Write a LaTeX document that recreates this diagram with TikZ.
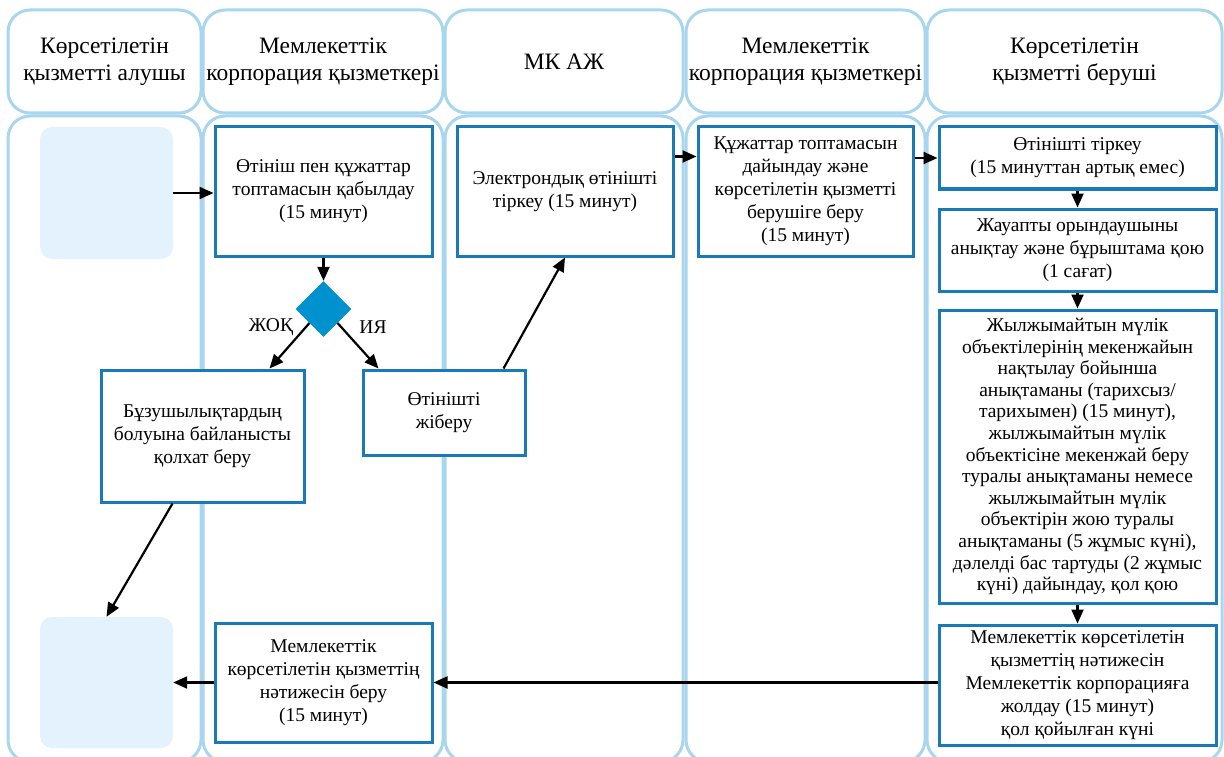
\documentclass[tikz,border=0pt]{standalone}
\usepackage{fontspec}
\setmainfont{Liberation Serif}
\usepackage{tikz}
\usetikzlibrary{calc,positioning,arrows.meta,shapes.geometric}
\definecolor{lanecol}{RGB}{168,214,238}
\definecolor{boxcol}{RGB}{25,122,182}
\definecolor{diacol}{RGB}{0,146,206}
\definecolor{startcol}{RGB}{227,242,252}
\tikzset{
    >={Triangle[length=14pt, width=12pt]},
    lanehead/.style={
        draw=lanecol,
        line width=3pt,
        rounded corners=22pt
    },
    headtext/.style={
        align=center,
        font={\fontsize{23.5pt}{27pt}\selectfont}
    },
    procbox/.style={
        rectangle,
        draw=boxcol, line width=3pt,
        fill=white,
        inner sep=0pt,
        align=center
    },
    endbox/.style={
        rectangle,
        rounded corners=12pt,
        fill=startcol,
        inner sep=0pt
    },
    decision/.style={
        diamond,
        fill=diacol,
        inner sep=0pt,
        minimum width=56pt,
        minimum height=56pt
    },
    flowline/.style={draw, line width=2.2pt, ->},
    font={\fontsize{19.5pt}{23pt}\selectfont},
}

\begin{document}
\begin{tikzpicture}[x=1pt, y=-1pt]
\useasboundingbox (0,0) rectangle (1224,757);
% swim lanes
\foreach \l/\r in {8/201, 203/443, 445/683, 686/925, 927/1222}{
    \draw[lanehead] (\l,10) rectangle (\r,113);
    \draw[lanehead] (\l,116) rectangle (\r,762);
}
\node[headtext] (hdA) at (104.5,62) {Көрсетілетін\\қызметті алушы};
\node[headtext] (hdB) at (323,62) {Мемлекеттік\\корпорация қызметкері};
\node[headtext] (hdC) at (564,62) {МК АЖ};
\node[headtext] (hdD) at (805.5,62) {Мемлекеттік\\корпорация қызметкері};
\node[headtext] (hdE) at (1074.5,62) {Көрсетілетін\\қызметті беруші};

\node(start) at (106.5,193)[endbox, minimum width=133pt, minimum height=132pt]{};
\node(fin) at (106.5,682.5)[endbox, minimum width=133pt, minimum height=131pt]{};

\node(acc) at (323.5,191.5)[procbox, minimum width=217pt, minimum height=129pt]
    {Өтініш пен құжаттар\\топтамасын қабылдау\\(15 минут)};
\node(reg) at (565,191.5)[procbox, minimum width=216pt, minimum height=129pt]
    {Электрондық өтінішті\\тіркеу (15 минут)};
\node(prep) at (805.5,191.5)[procbox, minimum width=215pt, minimum height=129pt]
    {Құжаттар топтамасын\\дайындау және\\көрсетілетін қызметті\\берушіге беру\\(15 минут)};
\node(rec) at (1077.5,158)[procbox, minimum width=277pt, minimum height=62pt]
    {Өтінішті тіркеу\\(15 минуттан артық емес)};
\node(assign) at (1077.5,250)[procbox, minimum width=277pt, minimum height=82pt]
    {Жауапты орындаушыны\\анықтау және бұрыштама қою\\(1 сағат)};
\node(cert) at (1077.5,456.5)[procbox, minimum width=277pt, minimum height=293pt,
    font={\fontsize{19.5pt}{21.6pt}\selectfont}]
    {Жылжымайтын мүлік\\объектілерінің мекенжайын\\нақтылау бойынша\\анықтаманы (тарихсыз/\\тарихымен) (15 минут),\\жылжымайтын мүлік\\объектісіне мекенжай беру\\туралы анықтаманы немесе\\жылжымайтын мүлік\\объектірін жою туралы\\анықтаманы (5 жұмыс күні),\\дәлелді бас тартуды (2 жұмыс\\күні) дайындау, қол қою};
\node(send) at (1077.5,685)[procbox, minimum width=277pt, minimum height=120pt]
    {Мемлекеттік көрсетілетін\\қызметтің нәтижесін\\Мемлекеттік корпорацияға\\жолдау (15 минут)\\қол қойылған күні};
\node(dia) at (323.5,309)[decision]{};
\node(refuse) at (202.5,436)[procbox, minimum width=203pt, minimum height=132pt]
    {Бұзушылықтардың\\болуына байланысты\\қолхат беру};
\node(fwd) at (444,412.5)[procbox, minimum width=162pt, minimum height=85pt]
    {Өтінішті\\жіберу};
\node(res) at (323.5,682.5)[procbox, minimum width=217pt, minimum height=119pt]
    {Мемлекеттік\\көрсетілетін қызметтің\\нәтижесін беру\\(15 минут)};

\node(no) at (271,327){ЖОҚ};
\node(yes) at (373,327){ИЯ};

\draw[flowline] (start.east) -- (start.east -| acc.west);
\draw[flowline] (acc.south) -- (dia.north);
\draw[flowline] (dia.south west) -- ([xshift=-36pt]refuse.north east);
\draw[flowline] (dia.south east) -- ([xshift=17pt]fwd.north west);
\draw[flowline] ([xshift=-23pt]fwd.north east) -- (reg.south);
\draw[flowline] ([yshift=-31pt]reg.north east) -- ([yshift=-31pt]prep.north west);
\draw[flowline] (prep.east |- rec.west) -- (rec.west);
\draw[flowline] (rec.south) -- (assign.north);
\draw[flowline] (assign.south) -- (cert.north);
\draw[flowline] (cert.south) -- (send.north);
\draw[flowline] ([xshift=-30pt]refuse.south) -- (fin.north);
\draw[flowline] (send.west |- res.east) -- (res.east);
\draw[flowline] (res.west) -- (res.west -| fin.east);
\end{tikzpicture}
\end{document}
